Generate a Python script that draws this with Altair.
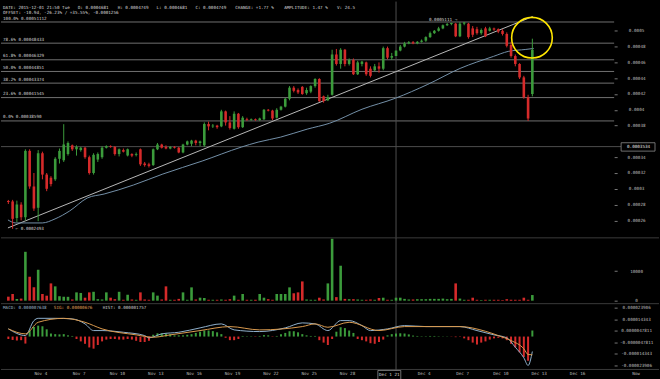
import altair as alt
import pandas as pd

FONT = "DejaVu Sans Mono"
FS = 4.3
GREEN = "#3b9b3b"
RED = "#d52a2a"
W = 615
H_PRICE, H_VOL, H_MACD = 237, 66, 66

# ---------------- data (prices in 1e-6 BTC) ----------------
CANDLE_START = "2015-11-01 12:00"
OPEN = [284.6, 284.0, 263.0, 280.0, 264.0, 348.0, 303.0, 276.0, 345.0, 318.0,
        314.0, 312.0, 338.0, 336.0, 344.0, 355.0, 350.0, 349.0, 352.0, 340.0,
        320.0, 337.0, 340.0, 352.0, 354.0, 353.0, 344.0, 349.0, 342.0, 344.0,
        343.0, 350.0, 332.0, 331.0, 330.0, 350.0, 356.0, 353.0, 351.0, 353.0,
        352.0, 346.0, 356.0, 357.0, 361.0, 358.0, 355.0, 382.0, 379.0, 380.0,
        379.0, 398.0, 384.0, 376.0, 395.0, 378.0, 388.0, 387.0, 388.0, 387.0,
        388.0, 400.0, 399.0, 390.0, 400.0, 404.0, 414.0, 428.0, 425.0, 429.0,
        421.0, 423.0, 430.0, 439.0, 417.0, 412.0, 419.0, 470.0, 458.0, 476.0,
        458.0, 463.0, 445.0, 458.0, 460.0, 452.0, 450.0, 455.0, 452.0, 478.0,
        466.0, 468.1, 475.0, 480.0, 484.0, 485.5, 484.0, 486.0, 487.5, 492.0,
        497.0, 500.0, 503.0, 507.0, 508.5, 509.0, 493.0, 509.0, 509.0, 503.0,
        502.0, 497.0, 503.0, 500.0, 503.0, 502.0, 500.0, 496.0, 482.0, 468.0,
        458.0, 441.0, 416.0, 420.0]
HIGH = [285.9, 286.0, 285.0, 283.0, 350.0, 350.0, 320.0, 349.0, 347.0, 320.0,
        316.0, 340.0, 351.0, 381.8, 360.0, 356.0, 355.0, 353.0, 353.0, 342.0,
        345.0, 346.0, 354.0, 355.0, 355.0, 354.0, 351.0, 351.0, 351.0, 345.0,
        346.0, 351.0, 334.0, 333.0, 351.0, 358.0, 357.0, 355.0, 354.0, 354.0,
        353.0, 357.0, 361.0, 362.0, 362.0, 361.0, 384.0, 385.0, 382.0, 381.0,
        400.0, 399.0, 392.0, 398.0, 396.0, 392.0, 390.0, 389.0, 389.0, 390.0,
        401.0, 401.0, 400.0, 402.0, 405.0, 415.0, 430.0, 430.0, 427.0, 430.0,
        428.0, 431.0, 440.0, 440.0, 418.0, 419.0, 476.0, 477.0, 478.0, 477.0,
        465.0, 465.0, 462.0, 462.0, 461.0, 455.0, 458.0, 460.0, 480.0, 480.0,
        472.0, 474.9, 482.0, 486.0, 487.0, 487.0, 487.0, 489.0, 493.0, 499.0,
        501.0, 505.0, 508.0, 510.0, 510.0, 510.0, 511.0, 511.1, 510.0, 506.0,
        505.0, 503.0, 505.0, 505.0, 504.0, 503.0, 502.0, 498.0, 486.0, 470.0,
        459.0, 443.0, 419.0, 490.0]
LOW = [280.8, 249.3, 258.0, 260.0, 260.0, 300.0, 272.0, 259.0, 312.0, 297.0,
       303.0, 310.0, 332.0, 334.0, 342.0, 348.0, 342.0, 347.0, 338.0, 318.0,
       318.0, 334.0, 338.0, 351.0, 352.0, 342.0, 341.0, 346.0, 341.0, 340.0,
       341.0, 329.0, 328.0, 327.0, 329.0, 349.0, 351.0, 350.0, 350.0, 351.0,
       345.0, 345.0, 355.0, 354.0, 355.0, 354.0, 353.0, 374.0, 377.0, 376.0,
       378.0, 380.0, 375.0, 375.0, 376.0, 377.0, 386.0, 386.0, 386.0, 386.0,
       387.0, 398.0, 387.0, 389.0, 399.0, 403.0, 412.0, 422.0, 420.0, 419.0,
       419.0, 421.0, 428.0, 410.0, 409.0, 411.0, 418.0, 456.0, 452.0, 455.0,
       456.0, 444.0, 444.0, 455.0, 443.0, 441.0, 449.0, 447.0, 450.0, 464.0,
       463.0, 468.1, 474.0, 479.0, 483.0, 483.0, 483.0, 485.0, 486.0, 491.0,
       496.0, 499.0, 502.0, 506.0, 507.0, 492.0, 492.0, 507.0, 490.0, 492.0,
       495.0, 495.0, 492.0, 499.0, 500.0, 497.0, 494.0, 479.0, 466.0, 455.0,
       439.0, 414.0, 385.9, 417.0]
CLOSE = [283.3, 262.0, 280.0, 264.0, 348.0, 303.0, 275.0, 345.0, 318.0, 300.0,
         306.0, 338.0, 348.0, 356.0, 358.0, 350.0, 353.0, 352.0, 340.0, 320.0,
         343.0, 344.0, 352.0, 354.0, 353.0, 344.0, 350.0, 347.0, 350.0, 342.0,
         344.0, 331.0, 330.0, 329.0, 350.0, 356.0, 352.0, 351.0, 353.0, 352.0,
         346.0, 356.0, 360.0, 361.0, 358.0, 360.0, 382.0, 379.0, 380.0, 378.0,
         398.0, 384.0, 377.0, 395.0, 378.0, 390.0, 387.0, 388.0, 387.0, 389.0,
         400.0, 399.0, 389.0, 400.0, 404.0, 414.0, 428.0, 424.0, 422.0, 420.0,
         425.0, 430.0, 439.0, 411.0, 411.0, 416.0, 470.0, 458.0, 476.0, 458.0,
         463.0, 445.0, 460.0, 461.0, 445.0, 443.0, 455.0, 452.0, 478.0, 466.0,
         468.0, 474.9, 480.0, 484.0, 485.5, 484.0, 486.0, 487.5, 492.0, 497.0,
         500.0, 503.0, 507.0, 508.5, 510.0, 493.0, 509.0, 510.5, 492.0, 495.0,
         497.0, 501.0, 493.0, 503.0, 501.5, 499.0, 496.0, 481.0, 468.0, 458.0,
         441.0, 416.0, 389.0, 476.0]
VOLUME = [1350, 2250, 600, 700, 16500, 8080, 4490, 10440, 2250, 1680,
          5830, 4830, 1500, 1300, 1300, 400, 2800, 2600, 1000, 2800,
          3000, 500, 400, 2800, 1000, 500, 3000, 300, 2000, 400,
          300, 2800, 400, 300, 2800, 1700, 400, 4830, 300, 300,
          600, 2800, 300, 4490, 400, 1000, 900, 300, 300, 300,
          400, 300, 500, 1700, 300, 2250, 300, 300, 300, 2250,
          1000, 500, 300, 2250, 2250, 2250, 4490, 2500, 2800, 6500,
          400, 300, 300, 1000, 400, 5830, 20900, 1200, 11800, 600,
          500, 500, 400, 300, 300, 400, 300, 900, 1000, 300,
          300, 1000, 1000, 600, 400, 400, 500, 500, 500, 600,
          600, 600, 700, 500, 600, 5830, 700, 300, 300, 1000,
          300, 200, 300, 300, 300, 300, 200, 500, 300, 300,
          300, 1000, 300, 1900]
HIST = [-2.0, -2.8, -3.3, -3.0, -5.8, 5.0, 8.0, 9.0, 8.5, 6.0,
        2.5, 2.0, 1.8, 2.0, 1.0, 0.5, -2.0, -4.0, -6.0, -9.0,
        -10.0, -7.0, -4.0, -2.5, -2.0, -2.0, -2.5, -2.5, -2.0, -2.5,
        -3.5, -4.5, -4.5, -3.5, 1.5, 2.7, 2.7, 2.5, 2.0, 1.0,
        1.0, 1.0, 1.5, 2.0, 3.0, 4.0, 5.0, 5.0, 4.5, 3.5,
        2.0, -1.0, -3.0, -3.0, -2.0, 0.5, 0.3, 0.3, -0.3, 0.5,
        1.2, 1.0, -0.3, 0.5, 2.0, 3.0, 4.4, 4.4, 3.5, 2.0,
        1.0, 0.5, 0.5, -3.0, -5.0, -7.0, -2.0, 4.0, 7.7, 7.0,
        5.0, 3.0, -2.0, -3.0, -4.0, -5.5, -6.0, -4.5, -2.5, 1.0,
        2.0, 2.5, 2.7, 2.5, 1.8, 0.8, 0.5, 0.3, 0.3, 0.5,
        0.5, 0.3, 0.2, 0.2, -0.2, -0.5, -0.3, -1.5, -3.0, -5.0,
        -6.6, -5.0, -4.0, -2.5, -1.5, -1.0, -1.5, -3.0, -6.0, -9.0,
        -13.0, -17.0, -20.0, 5.0]
MACD_IDX = [0, 4, 6, 7, 11, 15, 18, 20, 22, 27, 32, 33, 36, 40, 45, 50, 53, 59, 65, 69,
            72, 75, 78, 80, 83, 85, 89, 93, 98, 106, 110, 114, 117, 119, 121, 122, 123]
MACD_VAL = [6.35, 0.82, 13.19, 15.08, 15.08, 14.59, 10.47, 4.95, 4.95, 3.54,
            0.82, -1.07, 2.23, 3.54, 7.17, 10.47, 5.52, 4.12, 7.17, 11.29,
            10.47, 4.95, 13.19, 13.19, 9.07, 4.95, 6.35, 9.07, 8.24, 8.24,
            4.95, 1.40, -1.07, -8.82, -17.56, -23.91, -12.36]
SIG_IDX = [0, 4, 7, 13, 18, 22, 30, 34, 38, 45, 52, 59, 69, 72, 75, 80, 87, 93, 106, 112,
           115, 118, 121, 122, 123]
SIG_VAL = [6.35, 2.23, 11.79, 15.08, 11.79, 6.35, 1.40, -0.58, 1.40, 4.95,
           8.24, 5.52, 8.24, 10.47, 7.67, 11.79, 4.95, 8.24, 8.24, 4.37,
           0.82, -3.30, -10.14, -14.84, -15.08]
MA_TIMES = ["2015-11-01T11:14", "2015-11-02T01:58", "2015-11-04T03:42", "2015-11-05T03:39",
            "2015-11-06T07:12", "2015-11-07T16:19", "2015-11-08T23:46", "2015-11-11T06:58",
            "2015-11-13T14:10", "2015-11-16T15:50", "2015-11-19T17:31", "2015-11-21T00:58",
            "2015-11-22T19:12", "2015-11-24T21:07", "2015-11-26T15:22", "2015-11-29T04:05",
            "2015-12-01T18:43", "2015-12-04T07:41", "2015-12-06T20:24", "2015-12-09T11:02",
            "2015-12-10T14:38", "2015-12-11T23:46", "2015-12-12T14:38"]
MA_VALS = [260.6, 256.8, 256.8, 261.9, 272.0, 288.4, 293.4, 304.8, 318.7, 335.1,
           352.8, 359.1, 365.4, 375.5, 383.0, 400.7, 414.6, 432.2, 452.4, 467.6,
           473.9, 476.4, 477.7]
TREND_TIMES = ["2015-11-01T11:14", "2015-12-12T12:43"]
TREND_VALS = [250.5, 518.0]
FIB_PCT = ["100.0%", "78.6%", "61.8%", "50.0%", "38.2%", "23.6%", "0.0%"]
FIB_VAL = [0.00051112, 0.00048433, 0.00046329, 0.00044851, 0.00043374, 0.00041545, 0.00038590]
CROSS_PRICE = 0.0003534
LOW_LABEL = "\u2190 0.0002493"
PEAK_LABEL = "0.0005111 \u2192"
HEADER_1 = ["DATE: 2015-12-01 21:50 Tue", "O: 0.0004681", "H: 0.0004749", "L: 0.0004681",
            "C: 0.0004749", "CHANGE: +1.77 %", "AMPLITUDE: 1.47 %", "V: 24.5"]
HEADER_2 = "OFFSET: -10.9d, -26.23% / +35.55%, -0.0001256"
MACD_HEADER = ["MACD: 0.000007638", "SIG: 0.00000676", "HIST: 0.000001757"]
PRICE_TICKS = [0.00026, 0.00028, 0.0003, 0.00032, 0.00034, 0.00038, 0.0004, 0.00042,
               0.00044, 0.00046, 0.00048, 0.0005]
VOL_TICKS = [0, 10000]
MACD_TICKS = [-0.000023906, -0.000014343, -0.0000047811, 0.0000047811, 0.000014343, 0.000023906]

# ---------------- layout constants ----------------
HEADER_1_X = [2, 77, 117, 156, 195, 235, 284, 337]
MACD_HEADER_X = [2, 53, 102]
MACD_HEADER_COL = ["#9fb8cc", "#e0a25a", "#cfcfcf"]

times = pd.date_range(CANDLE_START, periods=len(OPEN), freq="8h")
T = [d.strftime("%Y-%m-%dT%H:%M:%S") for d in times]

candles = pd.DataFrame({
    "t": T,
    "o": [v * 1e-6 for v in OPEN],
    "h": [v * 1e-6 for v in HIGH],
    "l": [v * 1e-6 for v in LOW],
    "c": [v * 1e-6 for v in CLOSE],
    "vol": VOLUME,
    "hist": [v * 1e-6 for v in HIST],
})
candles["col"] = [GREEN if c >= o else RED for o, c in zip(OPEN, CLOSE)]
candles["hcol"] = [GREEN if v >= 0 else RED for v in HIST]

macd_df = pd.DataFrame({"t": [T[i] for i in MACD_IDX], "v": [v * 1e-6 for v in MACD_VAL]})
sig_df = pd.DataFrame({"t": [T[i] for i in SIG_IDX], "v": [v * 1e-6 for v in SIG_VAL]})
ma_df = pd.DataFrame({"t": MA_TIMES, "v": [v * 1e-6 for v in MA_VALS]})
trend_df = pd.DataFrame({"t": TREND_TIMES, "v": [v * 1e-6 for v in TREND_VALS]})
fib_df = pd.DataFrame({"v": FIB_VAL,
                       "label": [f"{p} {v:.8f}" for p, v in zip(FIB_PCT, FIB_VAL)]})
low_df = pd.DataFrame({"t": [T[LOW.index(min(LOW))]], "v": [min(LOW) * 1e-6], "s": [LOW_LABEL]})
peak_df = pd.DataFrame({"t": [T[HIGH.index(max(HIGH))]], "v": [max(HIGH) * 1e-6], "s": [PEAK_LABEL]})
one = pd.DataFrame({"a": [0]})


def dt(y, mo, d, h=0, mi=0):
    return alt.DateTime(year=y, month=mo, date=d, hours=h, minutes=mi)


CROSS_T = dt(2015, 12, 1, 20, 0)
CIRCLE_T = dt(2015, 12, 12, 11, 17)
CIRCLE_P = 0.0004912

XS = alt.Scale(domain=[dt(2015, 11, 1, 7, 33), dt(2015, 12, 18, 12, 14)])
PY = alt.Scale(domain=[0.00023792, 0.00053697], nice=False, zero=False)
VY = alt.Scale(domain=[-1010, 21212], nice=False, zero=False)
MY = alt.Scale(domain=[-0.0000272, 0.0000272], nice=False, zero=False)


def yaxis(values, **kw):
    return alt.Axis(orient="right", values=values, title="", grid=False, domain=False,
                    tickSize=3, tickColor="#777777", labelColor="#bdbdbd", labelFont=FONT,
                    labelFontSize=FS, labelAlign="center", labelBaseline="middle",
                    labelPadding=19, labelOverlap=False, **kw)


price_axis = yaxis(PRICE_TICKS, format=".5~f")
vol_axis = yaxis(VOL_TICKS, format="d")
macd_axis = yaxis(MACD_TICKS, labelExpr="datum.value > 0 ? format(datum.value, '.10~f') : '-' + format(-datum.value, '.10~f')")

x_axis = alt.Axis(values=[dt(2015, 11, d) for d in (4, 7, 10, 13, 16, 19, 22, 25, 28)] +
                         [dt(2015, 12, d) for d in (4, 7, 10, 13, 16)],
                  format="%b %-d", title="", grid=False, domain=False, ticks=False,
                  labelFont=FONT, labelFontSize=FS, labelColor="#bdbdbd", labelPadding=2,
                  labelOverlap=False, labelFlush=False)

XN = alt.X("t:T", scale=XS, axis=None)
XM = alt.X("t:T", scale=XS, axis=x_axis)


def YP(f):
    return alt.Y(f, scale=PY, axis=price_axis)


def YM(f):
    return alt.Y(f, scale=MY, axis=macd_axis)


def text_at(s, px, py, color="#d8d8d8", align="left"):
    return alt.Chart(pd.DataFrame({"s": [s]})).mark_text(
        align=align, baseline="middle", font=FONT, fontSize=FS, color=color
    ).encode(x=alt.value(px), y=alt.value(py), text="s:N")


def vcross(h, axis=None):
    return alt.Chart(one).mark_rule(color="#4d4d4d", strokeWidth=1).encode(
        x=alt.XDatum(CROSS_T, axis=axis, scale=XS), y=alt.value(0), y2=alt.value(h))


def sep(py):
    return alt.Chart(one).mark_rule(color="#3a3a3a", strokeWidth=1).encode(
        x=alt.value(0), x2=alt.value(660), y=alt.value(py))


# ---------------- price panel ----------------
fib_rules = alt.Chart(fib_df).mark_rule(color="#707070", strokeWidth=1).encode(y=YP("v:Q"))
fib_text = alt.Chart(fib_df).mark_text(align="left", baseline="bottom", dy=-1.5, font=FONT,
                                       fontSize=FS, color="#d0d0d0").encode(
    x=alt.value(2), y=YP("v:Q"), text="label:N")
cross_h = alt.Chart(one).mark_rule(color="#4d4d4d", strokeWidth=1).encode(
    y=alt.YDatum(CROSS_PRICE, axis=price_axis, scale=PY), x=alt.value(0), x2=alt.value(622))
trend = alt.Chart(trend_df).mark_line(color="#b8b8b8", strokeWidth=1).encode(x=XN, y=YP("v:Q"))
ma = alt.Chart(ma_df).mark_line(color="#7390a8", strokeWidth=1, interpolate="monotone").encode(
    x=XN, y=YP("v:Q"))
wicks = alt.Chart(candles).mark_rule(strokeWidth=1).encode(
    x=XN, y=YP("l:Q"), y2="h:Q", color=alt.Color("col:N", scale=None))
bodies = alt.Chart(candles).mark_bar(width=2.6).encode(
    x=XN, y=YP("o:Q"), y2="c:Q", color=alt.Color("col:N", scale=None))
low_lbl = alt.Chart(low_df).mark_text(align="left", baseline="middle", dx=3, font=FONT,
                                      fontSize=FS, color="#d8d8d8").encode(
    x=XN, y=YP("v:Q"), text="s:N")
peak_lbl = alt.Chart(peak_df).mark_text(align="right", baseline="middle", dx=-7, dy=-2.5,
                                        font=FONT, fontSize=FS, color="#d8d8d8").encode(
    x=XN, y=YP("v:Q"), text="s:N")
circle = alt.Chart(one).mark_point(shape="circle", size=1662, filled=False, color="#ffe600",
                                   strokeWidth=1.6, opacity=1).encode(
    x=alt.XDatum(CIRCLE_T, axis=None, scale=XS), y=alt.YDatum(CIRCLE_P, axis=price_axis, scale=PY))
box = alt.Chart(one).mark_rect(fill="#000000", stroke="#8a8a8a", strokeWidth=0.8).encode(
    x=alt.value(622), x2=alt.value(656), y=alt.value(141.6), y2=alt.value(150))
box_txt = alt.Chart(pd.DataFrame({"s": [f"{CROSS_PRICE:.7f}"]})).mark_text(
    align="center", baseline="middle", font=FONT, fontSize=FS, color="#e0e0e0").encode(
    x=alt.value(639.5), y=alt.YDatum(CROSS_PRICE, axis=price_axis, scale=PY), text="s:N")

headers = [text_at(s, px, 6) for s, px in zip(HEADER_1, HEADER_1_X)]
headers.append(text_at(HEADER_2, 2, 11.7))

price = alt.layer(fib_rules, cross_h, vcross(H_PRICE), trend, ma, wicks, bodies, fib_text,
                  low_lbl, peak_lbl, circle, box, box_txt, *headers).properties(
    width=W, height=H_PRICE)

# ---------------- volume panel ----------------
vol_bars = alt.Chart(candles).mark_bar(width=2.6).encode(
    x=XN, y=alt.Y("vol:Q", scale=VY, axis=vol_axis), y2=alt.datum(0),
    color=alt.Color("col:N", scale=None))
volume = alt.layer(sep(0), vcross(H_VOL), vol_bars).properties(width=W, height=H_VOL)

# ---------------- MACD panel ----------------
hist_bars = alt.Chart(candles).mark_bar(width=2).encode(
    x=XM, y=YM("hist:Q"), y2=alt.datum(0), color=alt.Color("hcol:N", scale=None))
macd_line = alt.Chart(macd_df).mark_line(color="#8fb0cc", strokeWidth=1, interpolate="monotone").encode(
    x=XM, y=YM("v:Q"))
sig_line = alt.Chart(sig_df).mark_line(color="#d99a4e", strokeWidth=1, interpolate="monotone").encode(
    x=XM, y=YM("v:Q"))
macd_hdr = [text_at(s, px, 4.5, color=c) for s, px, c in zip(MACD_HEADER, MACD_HEADER_X, MACD_HEADER_COL)]
date_box = alt.Chart(one).mark_rect(fill="#000000", stroke="#8a8a8a", strokeWidth=0.8).encode(
    x=alt.value(378), x2=alt.value(401), y=alt.value(67), y2=alt.value(76))
macd = alt.layer(sep(0), sep(H_MACD), vcross(H_MACD + 10, axis=x_axis), hist_bars, macd_line,
                 sig_line, *macd_hdr, date_box, text_at("Dec 1 21", 389.5, 71.5, align="center"),
                 text_at("Now", 637, 71, color="#bdbdbd", align="center")).properties(
    width=W, height=H_MACD)

chart = alt.vconcat(price, volume, macd, spacing=0, bounds="flush").resolve_scale(
    x="independent", y="independent").properties(
    background="#000000", padding=0).configure_view(stroke="transparent")

chart.save("out.html", embed_options={"renderer": "svg", "actions": False})
